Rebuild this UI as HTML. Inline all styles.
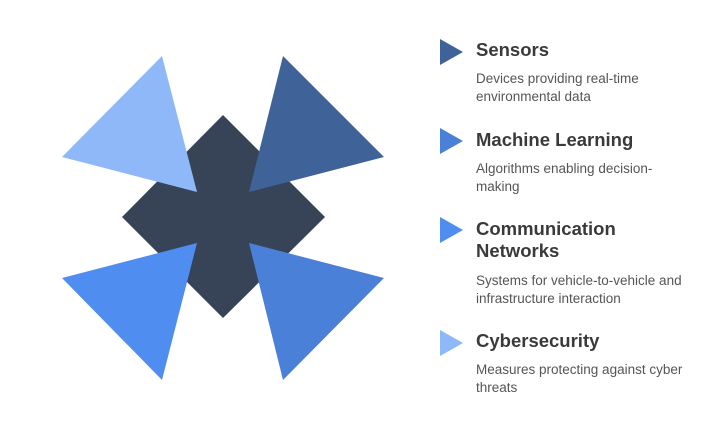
<!DOCTYPE html>
<html><head><style>
body{margin:0;width:704px;height:425px;background:#fff;overflow:hidden;font-family:"Liberation Sans",sans-serif;position:relative}
.t{position:absolute;left:476px;font-size:18.5px;font-weight:bold;color:#3a3a3a;line-height:22px}
.d{position:absolute;left:476px;font-size:13.5px;color:#555;line-height:18px}
</style></head><body>
<svg width="704" height="425" style="position:absolute;left:0;top:0">
<polygon points="223,115 325,217 223,318 122,217" fill="#374357"/>
<polygon points="162,56 62,157 197,192" fill="#8fb8f8"/>
<polygon points="283,56 384,157 249,192" fill="#3f6399"/>
<polygon points="62,278 197,243 162,380" fill="#4f8ef0"/>
<polygon points="249,243 384,278 283,380" fill="#4a80d8"/>
<polygon points="440,39 463,52 440,65" fill="#3f6399"/>
<polygon points="440,128 463,141 440,154" fill="#4a80d8"/>
<polygon points="440,217 463,230 440,243" fill="#4f8ef0"/>
<polygon points="440,330 463,343 440,356" fill="#8fb8f8"/>
</svg>
<div class="t" style="top:39px">Sensors</div>
<div class="d" style="top:70px">Devices providing real-time<br>environmental data</div>
<div class="t" style="top:129px">Machine Learning</div>
<div class="d" style="top:160px">Algorithms enabling decision-<br>making</div>
<div class="t" style="top:218px">Communication<br>Networks</div>
<div class="d" style="top:272px">Systems for vehicle-to-vehicle and<br>infrastructure interaction</div>
<div class="t" style="top:330px">Cybersecurity</div>
<div class="d" style="top:361px">Measures protecting against cyber<br>threats</div>
</body></html>
